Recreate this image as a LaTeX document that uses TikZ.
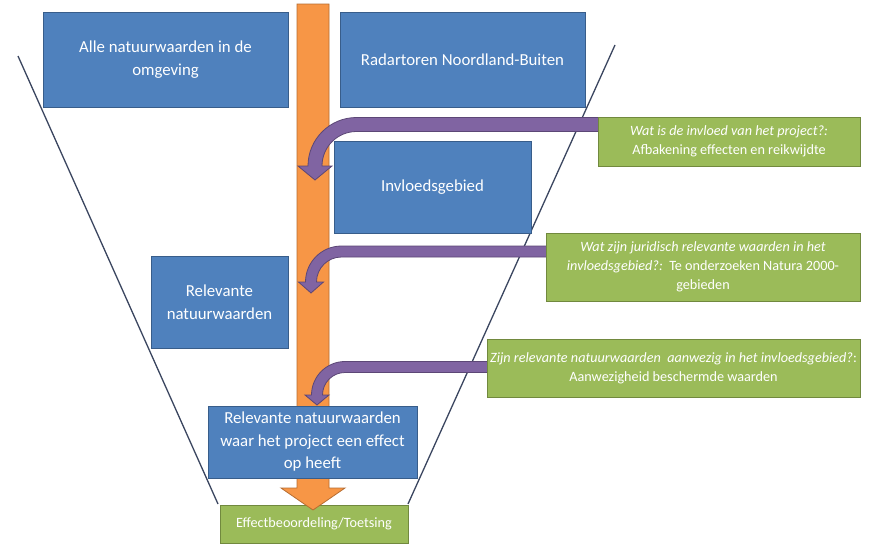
\documentclass[tikz,border=0pt]{standalone}
\usepackage{fontspec}
\setmainfont{Carlito}
\usetikzlibrary{shadows}
\definecolor{bfill}{HTML}{4F81BD}
\definecolor{bline}{HTML}{385D8A}
\definecolor{gfill}{HTML}{9BBB59}
\definecolor{gline}{HTML}{71893E}
\definecolor{ofill}{HTML}{F79646}
\definecolor{oline}{HTML}{B66D31}
\definecolor{pfill}{HTML}{8064A2}
\definecolor{pline}{HTML}{5C4776}
\definecolor{fline}{HTML}{3B4660}
\tikzset{
  shad/.style={drop shadow={shadow xshift=1.2pt,shadow yshift=-1.2pt,opacity=.25}},
  bluebox/.style={draw=bline, fill=bfill, line width=0.9pt, text=white, align=center,
    inner sep=2pt, font=\fontsize{16.8}{22.5}\selectfont, shad},
  greenbox/.style={draw=gline, fill=gfill, line width=0.9pt, text=white, align=center,
    inner sep=2pt, font=\fontsize{14.2}{19}\selectfont, shad},
  funnel/.style={draw=fline, line width=1.3pt},
  orangearrow/.style={fill=ofill, draw=oline, line width=0.8pt},
  purplearrow/.style={fill=pfill, draw=pline, line width=0.8pt}
}
% #1 start x, #2 band centre y, #3 tip x, #4 head base y, #5 half band width, #6 half head width, #7 head length
\newcommand{\parrow}[7]{%
  \pgfmathsetmacro\prad{#4-#2}%
  \pgfmathsetmacro\pcx{#3+\prad}%
  \pgfmathsetmacro\pro{\prad+#5}%
  \pgfmathsetmacro\pri{\prad-#5}%
  \path[purplearrow] (#1,#2-#5) -- (\pcx,#2-#5) arc[start angle=270,end angle=180,radius=\pro]
    -- (#3-#6,#4) -- (#3,#4+#7) -- (#3+#6,#4) -- (#3+#5,#4)
    arc[start angle=180,end angle=270,radius=\pri] -- (#1,#2+#5) -- cycle;}
\begin{document}
\begin{tikzpicture}[x=1pt,y=-1pt]
\useasboundingbox (0,0) rectangle (886,554);
\fill[white] (0,0) rectangle (886,554);
% funnel
\coordinate (ltop) at (18,56);
\coordinate (lbot) at (218,504);
\coordinate (rtop) at (615,45);
\coordinate (rbot) at (408,504);
\draw[funnel] (ltop) -- (lbot);
\draw[funnel] (rtop) -- (rbot);
% bottom green box
\node[greenbox, minimum width=188pt, minimum height=38pt] (g0) at (314,524) {Effectbeoordeling/Toetsing};
% orange arrow
\path[orangearrow] (297,4) -- (329,4) -- (329,488) -- (345,488) -- (313,510) -- (281,488) -- (297,488) -- cycle;
% blue boxes
\node[bluebox, minimum width=245pt, minimum height=95pt] (b1) at (165.5,59.5) {Alle natuurwaarden in de\\omgeving};
\node[bluebox, minimum width=245pt, minimum height=95pt] (b2) at (462.5,59.5) {Radartoren Noordland-Buiten};
\node[bluebox, minimum width=197pt, minimum height=92pt] (b3) at (432.5,187) {Invloedsgebied};
\node[bluebox, minimum width=137pt, minimum height=92pt] (b4) at (219.5,302) {Relevante\\natuurwaarden};
\node[bluebox, minimum width=209pt, minimum height=72pt] (b5) at (312.5,442) {Relevante natuurwaarden\\waar het project een effect\\op heeft};
% purple arrows
\parrow{600}{124.5}{315}{166}{7}{17}{14}
\parrow{548}{251.5}{311}{282}{5.5}{12.5}{11}
\parrow{489}{367}{317}{395}{5.5}{12}{10}
% green question boxes
\node[greenbox, minimum width=262pt, minimum height=49pt] (g1) at (729,141.5)
  {\textit{Wat is de invloed van het project?:}\\Afbakening effecten en reikwijdte};
\node[greenbox, minimum width=314pt, minimum height=68pt] (g2) at (703,267)
  {\textit{Wat zijn juridisch relevante waarden in het}\\\textit{invloedsgebied?:}\ \ Te onderzoeken Natura 2000-\\gebieden};
\node[greenbox, minimum width=373pt, minimum height=58pt] (g3) at (673.5,368)
  {\textit{Zijn relevante natuurwaarden\ \ aanwezig in het invloedsgebied?}:\\Aanwezigheid beschermde waarden};
\end{tikzpicture}
\end{document}
